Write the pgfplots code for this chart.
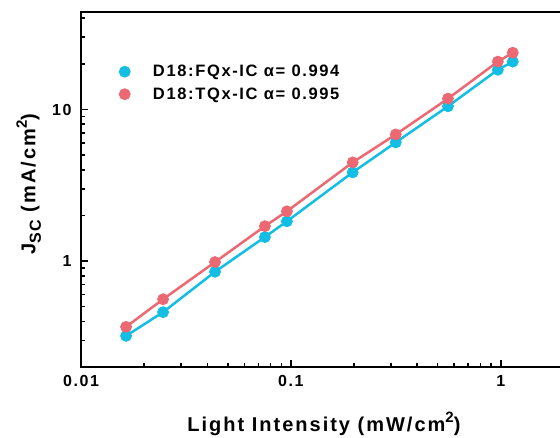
\documentclass[border=0pt]{standalone}
\usepackage{pgfplots}
\pgfplotsset{compat=1.18}
\usepackage{fontspec}
\setmainfont{Liberation Sans}[LetterSpace=10]
\definecolor{cblue}{RGB}{18,190,228}
\definecolor{cred}{RGB}{236,104,114}
\pgfplotstableread{
x      blue   red
0.0164 0.321  0.368
0.0246 0.46   0.56
0.0435 0.85   0.985
0.0752 1.44   1.70
0.0957 1.83   2.13
0.197  3.85   4.48
0.316  6.07   6.85
0.56   10.5   11.8
0.968  18.3   20.7
1.14   20.7   23.7
}\datatable
\newcommand{\sqr}{\raisebox{0.42em}{\fontsize{15}{15}\selectfont 2}}
\newcommand{\sub}{\raisebox{-0.28em}{\fontsize{16}{16}\selectfont SC}}
\begin{document}
\begin{tikzpicture}
\begin{axis}[
  scale only axis, width=483pt, height=355pt,
  xmode=log, ymode=log,
  xmin=0.01, xmax=2, ymin=0.2, ymax=44,
  axis line style={line width=2pt},
  tick style={line width=1.6pt, black},
  tick align=inside,
  xtick pos=bottom, ytick pos=left,
  major tick length=7pt, minor tick length=4pt,
  xtick={0.01,0.1,1}, xticklabels={0.01,0.1,1},
  ytick={1,10}, yticklabels={1,10},
  minor xtick={0.02,0.03,0.04,0.05,0.06,0.07,0.08,0.09,0.2,0.3,0.4,0.5,0.6,0.7,0.8,0.9,2},
  minor ytick={0.3,0.4,0.5,0.6,0.7,0.8,0.9,2,3,4,5,6,7,8,9,20,30,40},
  ticklabel style={font=\bfseries\fontsize{16}{16}\selectfont},
  xticklabel style={yshift=-5pt},
  yticklabel style={xshift=-6pt},
  xlabel={Light Intensity (mW/cm\sqr)},
  ylabel={J\sub\ (mA/cm\sqr)},
  label style={font=\bfseries\fontsize{20}{22}\selectfont},
  xlabel style={at={(axis description cs:0.503,-0.16)}, anchor=center},
  ylabel style={at={(axis description cs:-0.108,0.515)}, anchor=center},
  legend style={at={(axis description cs:0.067,0.862)}, anchor=north west, draw=none, fill=none,
    font=\bfseries\fontsize{16.5}{16.5}\selectfont, row sep=5.5pt},
  legend cell align=left,
  legend image code/.code={\draw[#1,only marks] plot coordinates {(0pt,0pt)}; \path (-8pt,0pt) (26pt,0pt);},
]
\coordinate (o) at (rel axis cs:0,0);
\addplot[cblue, line width=2.5pt, no marks, forget plot] table[x=x,y=blue] {\datatable};
\addplot[cred, line width=2.5pt, no marks, forget plot] table[x=x,y=red] {\datatable};
\addplot[only marks, mark=*, mark size=5.5pt, mark options={fill=cblue, draw=cblue, line width=0.8pt}] table[x=x,y=blue] {\datatable};
\addlegendentry{D18:FQx-IC α= 0.994}
\addplot[only marks, mark=*, mark size=5.5pt, mark options={fill=cred, draw=cred, line width=0.8pt}] table[x=x,y=red] {\datatable};
\addlegendentry{D18:TQx-IC α= 0.995}
\end{axis}
\pgfresetboundingbox
\path[use as bounding box] ([xshift=-81pt,yshift=-70pt]o) rectangle ([xshift=479pt,yshift=367pt]o);
\end{tikzpicture}
\end{document}
